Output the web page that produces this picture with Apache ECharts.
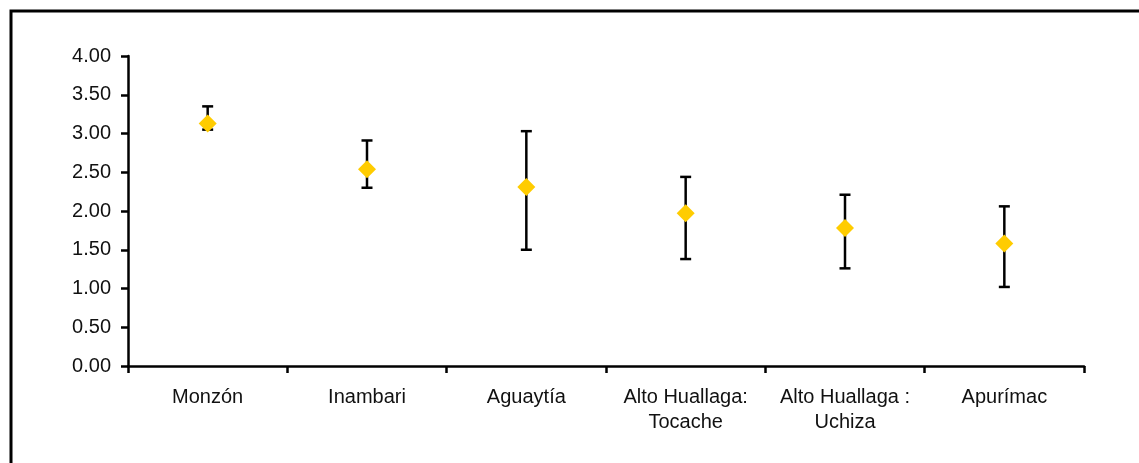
<!DOCTYPE html>
<html>
<head>
<meta charset="utf-8">
<script src="https://cdn.jsdelivr.net/npm/echarts@6/dist/echarts.min.js"></script>
<style>
  html, body { margin: 0; padding: 0; background: #fff; }
  #chart { width: 1139px; height: 463px; }
</style>
</head>
<body>
<div id="chart"></div>
<script>
// categories and values
var categories = ["Monzón", "Inambari", "Aguaytía", "Alto Huallaga:\nTocache", "Alto Huallaga :\nUchiza", "Apurímac"];
var means = [3.13, 2.54, 2.31, 1.97, 1.78, 1.58];
var upper = [3.35, 2.91, 3.03, 2.44, 2.21, 2.06];
var lower = [3.05, 2.30, 1.50, 1.38, 1.26, 1.02];

var errorData = categories.map(function (c, i) {
  return [i, lower[i], upper[i]];
});

var chart = echarts.init(document.getElementById("chart"));

var option = {
  animation: false,
  graphic: [
    {
      type: "rect",
      shape: { x: 11, y: 11, width: 1140, height: 470 },
      style: { fill: "none", stroke: "#000", lineWidth: 3 },
      z: 100
    }
  ],
  grid: { left: 128, right: 55, top: 56, bottom: 97 },
  xAxis: {
    type: "category",
    data: categories,
    axisLine: { lineStyle: { color: "#000", width: 2.5 } },
    axisTick: { show: true, length: 7, lineStyle: { color: "#000", width: 2.5 } },
    axisLabel: {
      color: "#111",
      fontFamily: "Liberation Sans, Arial",
      fontSize: 20,
      lineHeight: 25,
      margin: 19,
      interval: 0
    },
    splitLine: { show: false }
  },
  yAxis: {
    type: "value",
    min: 0,
    max: 4,
    interval: 0.5,
    axisLine: { show: true, lineStyle: { color: "#000", width: 2.5 } },
    axisTick: { show: true, length: 7, lineStyle: { color: "#000", width: 2.5 } },
    axisLabel: {
      color: "#111",
      fontFamily: "Liberation Sans, Arial",
      fontSize: 20,
      margin: 17,
      formatter: function (v) { return v.toFixed(2); }
    },
    splitLine: { show: false }
  },
  series: [
    {
      type: "custom",
      data: errorData,
      renderItem: function (params, api) {
        var x = api.value(0);
        var lo = api.coord([x, api.value(1)]);
        var hi = api.coord([x, api.value(2)]);
        var cap = 5.5;
        var st = { stroke: "#000", lineWidth: 2.5 };
        return {
          type: "group",
          children: [
            { type: "line", shape: { x1: hi[0], y1: hi[1], x2: lo[0], y2: lo[1] }, style: st },
            { type: "line", shape: { x1: hi[0] - cap, y1: hi[1], x2: hi[0] + cap, y2: hi[1] }, style: st },
            { type: "line", shape: { x1: lo[0] - cap, y1: lo[1], x2: lo[0] + cap, y2: lo[1] }, style: st }
          ]
        };
      },
      z: 2
    },
    {
      type: "scatter",
      data: means,
      symbol: "diamond",
      symbolSize: [18, 18],
      itemStyle: { color: "#FFCC00", opacity: 1 },
      z: 3
    }
  ]
};

chart.setOption(option);
</script>
</body>
</html>
